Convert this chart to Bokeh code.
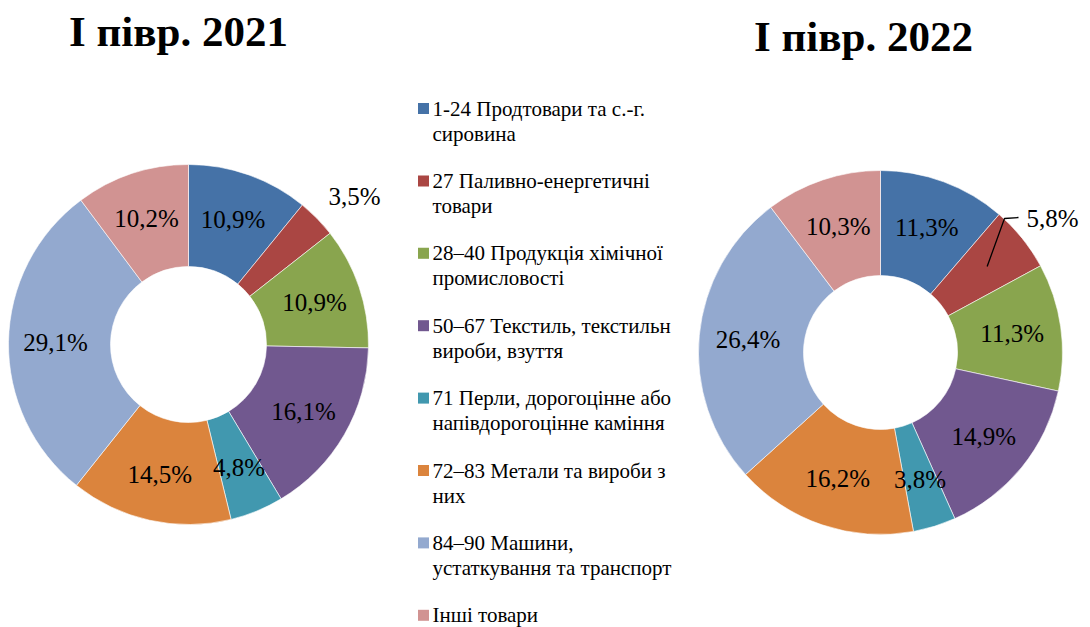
import numpy as np
from bokeh.plotting import figure
from bokeh.models import Range1d, ColumnDataSource
from bokeh.core.properties import value
from bokeh.embed import file_html
from bokeh.resources import INLINE

# ---------------- data ----------------
categories = [
    "1-24 Продтовари та с.-г.\nсировина",
    "27 Паливно-енергетичні\nтовари",
    "28–40 Продукція хімічної\nпромисловості",
    "50–67 Текстиль, текстильн\nвироби, взуття",
    "71 Перли, дорогоцінне або\nнапівдорогоцінне каміння",
    "72–83 Метали та вироби з\nних",
    "84–90 Машини,\nустаткування та транспорт",
    "Інші товари",
]
share_2021 = [10.9, 3.5, 10.9, 16.1, 4.8, 14.5, 29.1, 10.2]
share_2022 = [11.3, 5.8, 11.3, 14.9, 3.8, 16.2, 26.4, 10.3]
titles = ["І півр. 2021", "І півр. 2022"]
colors = ["#4572A7", "#AA4643", "#89A54E", "#71588F",
          "#4198AF", "#DB843D", "#93A9CF", "#D19392"]

FONT_NAME = "Liberation Serif"
W, H = 1090, 627

p = figure(width=W, height=H, x_range=Range1d(0, W), y_range=Range1d(0, H),
           output_backend="svg", toolbar_location=None, min_border=0)
p.axis.visible = False
p.grid.visible = False
p.outline_line_color = None
p.background_fill_color = "white"
p.border_fill_color = "white"


def sx(x):
    return x


def sy(y):
    return H - y


def fmt(v):
    return f"{v:.1f}".replace(".", ",") + "%"


def donut(vals, cx, cy, r_in, r_out, lab_r, outside):
    v = np.array(vals, dtype=float) / sum(vals)
    cum = np.concatenate([[0.0], np.cumsum(v)])
    start = np.pi / 2 - 2 * np.pi * cum[:-1]
    end = np.pi / 2 - 2 * np.pi * cum[1:]
    mid = (start + end) / 2
    src = ColumnDataSource(dict(x=[cx] * len(vals), y=[cy] * len(vals),
                                s=start, e=end, c=colors))
    p.annular_wedge(x="x", y="y", inner_radius=r_in, outer_radius=r_out,
                    start_angle="s", end_angle="e", direction="clock",
                    fill_color="c", line_color="white", line_width=0.6, source=src)
    ins_x, ins_y, ins_t = [], [], []
    for i, val in enumerate(vals):
        if i in outside:
            continue
        ins_x.append(cx + lab_r * np.cos(mid[i]))
        ins_y.append(cy + lab_r * np.sin(mid[i]))
        ins_t.append(fmt(val))
    p.text(x=ins_x, y=ins_y, text=ins_t, text_font=value(FONT_NAME),
           text_font_size="25px", text_align="center", text_baseline="middle",
           text_color="black")
    return mid


# left donut
cxl, cyl = sx(188), sy(344)
mid_l = donut(share_2021, cxl, cyl, 78, 180, 133, {1})
p.text(x=[sx(354)], y=[sy(196)], text=[fmt(share_2021[1])], text_font=value(FONT_NAME),
       text_font_size="25px", text_align="center", text_baseline="middle",
       text_color="black")

# right donut
cxr, cyr = sx(880), sy(352)
mid_r = donut(share_2022, cxr, cyr, 77, 182, 133, {1})
lx0 = cxr + 137 * np.cos(mid_r[1])
ly0 = cyr + 137 * np.sin(mid_r[1])
p.line(x=[lx0, sx(1004), sx(1018)], y=[ly0, sy(218), sy(217)],
       line_color="black", line_width=1.3)
p.text(x=[sx(1026)], y=[sy(218)], text=[fmt(share_2022[1])], text_font=value(FONT_NAME),
       text_font_size="25px", text_align="left", text_baseline="middle",
       text_color="black")

# titles
p.text(x=[sx(178), sx(863)], y=[sy(31), sy(36)], text=titles, text_font=value(FONT_NAME),
       text_font_size="43px", text_font_style="bold", text_align="center",
       text_baseline="middle", text_color="black")

# legend
y0, step, lstep = 108, 72.4, 25
mk_x, mk_y, l1x, l1y, l1t, l2x, l2y, l2t = [], [], [], [], [], [], [], []
for i, cat in enumerate(categories):
    yc = y0 + i * step
    mk_x.append(sx(423))
    mk_y.append(sy(yc))
    parts = cat.split("\n")
    l1x.append(sx(432)); l1y.append(sy(yc)); l1t.append(parts[0])
    if len(parts) > 1:
        l2x.append(sx(432)); l2y.append(sy(yc + lstep)); l2t.append(parts[1])
p.rect(x=mk_x, y=mk_y, width=11, height=11, fill_color=colors, line_color=None)
for xs, ys, ts in ((l1x, l1y, l1t), (l2x, l2y, l2t)):
    p.text(x=xs, y=ys, text=ts, text_font=value(FONT_NAME), text_font_size="21px",
           text_align="left", text_baseline="middle", text_color="black")

open("out.html", "w").write(file_html(p, INLINE))
